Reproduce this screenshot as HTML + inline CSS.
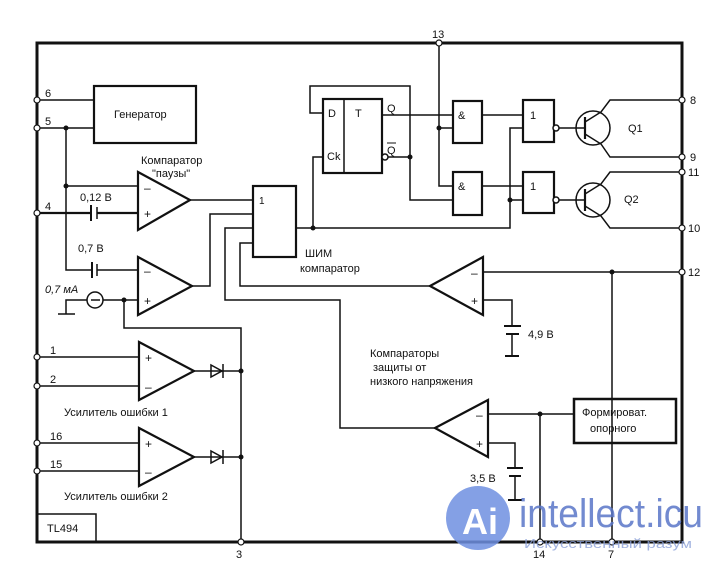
<!DOCTYPE html>
<html><head><meta charset="utf-8"><style>
body{margin:0;background:#fff}
svg{display:block}
text{font-family:"Liberation Sans",sans-serif;fill:#111}
</style></head><body>
<svg width="718" height="570" viewBox="0 0 718 570" xmlns="http://www.w3.org/2000/svg" font-size="11">
<g stroke="#111" fill="none" stroke-width="1.5">
<rect x="37" y="43" width="645" height="499" stroke-width="3"/>
<rect x="94" y="86" width="102" height="57" stroke-width="2.2"/>
<line x1="37" y1="100" x2="94" y2="100"/>
<line x1="37" y1="128" x2="94" y2="128"/>
<polyline points="66,128 66,270 92,270"/>
<line x1="97" y1="270" x2="138" y2="270"/>
<line x1="92" y1="262" x2="92" y2="278" stroke-width="2"/>
<line x1="97" y1="264" x2="97" y2="276"/>
<line x1="66" y1="186" x2="138" y2="186"/>
<line x1="37" y1="213" x2="91" y2="213" stroke-width="2.2"/>
<line x1="97" y1="213" x2="138" y2="213" stroke-width="2.2"/>
<line x1="91" y1="205" x2="91" y2="221" stroke-width="2"/>
<line x1="97" y1="207" x2="97" y2="219"/>
<polygon points="138,172 138,230 190,200" stroke-width="2.2"/>
<line x1="190" y1="200" x2="253" y2="200"/>
<polygon points="138,257 138,315 192,286" stroke-width="2.2"/>
<polyline points="192,286 210,286 210,214 253,214"/>
<circle cx="95" cy="300" r="8"/>
<polyline points="66,314 66,300 87,300"/>
<line x1="58" y1="314" x2="75" y2="314"/>
<line x1="103" y1="300" x2="138" y2="300"/>
<line x1="91" y1="300" x2="100" y2="300"/>
<polyline points="124,300 124,328 241,328 241,542"/>
<rect x="253" y="186" width="43" height="71" stroke-width="2.2"/>
<polyline points="253,228 225,228 225,300 340,300 340,428 435,428"/>
<polyline points="253,243 240,243 240,286 430,286"/>
<polyline points="296,228 510,228 510,128 523,128"/>
<polyline points="323,157 313,157 313,228"/>
<line x1="510" y1="200" x2="523" y2="200"/>
<rect x="323" y="99" width="59" height="74" stroke-width="2.2"/>
<line x1="344" y1="99" x2="344" y2="173"/>
<polyline points="323,113 310,113 310,86 410,86 410,200 453,200"/>
<line x1="382" y1="115" x2="453" y2="115"/>
<line x1="385" y1="157" x2="410" y2="157"/>
<circle cx="385" cy="157" r="3" fill="#fff"/>
<polyline points="439,43 439,186 453,186"/>
<line x1="439" y1="128" x2="453" y2="128"/>
<rect x="453" y="101" width="29" height="42" stroke-width="2.2"/>
<rect x="453" y="172" width="29" height="43" stroke-width="2.2"/>
<line x1="482" y1="115" x2="523" y2="115"/>
<line x1="482" y1="186" x2="523" y2="186"/>
<rect x="523" y="100" width="31" height="42" stroke-width="2.2"/>
<rect x="523" y="172" width="31" height="41" stroke-width="2.2"/>
<circle cx="556" cy="128" r="3" fill="#fff"/>
<circle cx="556" cy="200" r="3" fill="#fff"/>
<circle cx="593" cy="128" r="17"/>
<line x1="559" y1="128" x2="585" y2="128"/>
<line x1="585" y1="117" x2="585" y2="139" stroke-width="2.2"/>
<polyline points="585,122 601,112 610,100 682,100"/>
<polyline points="585,134 601,144 610,157 682,157"/>
<circle cx="593" cy="200" r="17"/>
<line x1="559" y1="200" x2="585" y2="200"/>
<line x1="585" y1="189" x2="585" y2="211" stroke-width="2.2"/>
<polyline points="585,194 601,184 610,172 682,172"/>
<polyline points="585,206 601,216 610,228 682,228"/>
<polygon points="430,286 483,257 483,315" stroke-width="2.2"/>
<line x1="483" y1="272" x2="682" y2="272"/>
<polyline points="483,300 512,300 512,326"/>
<line x1="504" y1="326" x2="521" y2="326" stroke-width="2"/>
<line x1="506" y1="334" x2="519" y2="334" stroke-width="2"/>
<polyline points="512,334 512,356"/>
<line x1="505" y1="356" x2="519" y2="356" stroke-width="2"/>
<line x1="612" y1="272" x2="612" y2="542"/>
<polygon points="435,428 488,400 488,457" stroke-width="2.2"/>
<line x1="488" y1="414" x2="574" y2="414"/>
<line x1="540" y1="414" x2="540" y2="542"/>
<polyline points="488,443 515,443 515,468"/>
<line x1="507" y1="468" x2="523" y2="468" stroke-width="2"/>
<line x1="509" y1="476" x2="521" y2="476" stroke-width="2"/>
<polyline points="515,476 515,500"/>
<line x1="508" y1="500" x2="522" y2="500" stroke-width="2"/>
<rect x="574" y="399" width="102" height="44" stroke-width="2.5"/>
<polygon points="139,342 139,400 194,371" stroke-width="2.2"/>
<line x1="37" y1="357" x2="139" y2="357"/>
<line x1="37" y1="386" x2="139" y2="386"/>
<line x1="194" y1="371" x2="241" y2="371"/>
<polygon points="211,365 211,377 222,371"/>
<line x1="223" y1="364" x2="223" y2="378"/>
<polygon points="139,428 139,486 194,457" stroke-width="2.2"/>
<line x1="37" y1="443" x2="139" y2="443"/>
<line x1="37" y1="471" x2="139" y2="471"/>
<line x1="194" y1="457" x2="241" y2="457"/>
<polygon points="211,451 211,463 222,457"/>
<line x1="223" y1="450" x2="223" y2="464"/>
<polyline points="37,514 96,514 96,542"/>
</g>
<g fill="#111">
<circle cx="66" cy="128" r="2.5"/><circle cx="66" cy="186" r="2.5"/>
<circle cx="124" cy="300" r="2.5"/><circle cx="313" cy="228" r="2.5"/>
<circle cx="410" cy="157" r="2.5"/><circle cx="439" cy="128" r="2.5"/>
<circle cx="510" cy="200" r="2.5"/><circle cx="612" cy="272" r="2.5"/>
<circle cx="540" cy="414" r="2.5"/><circle cx="241" cy="371" r="2.5"/>
<circle cx="241" cy="457" r="2.5"/>
</g>
<g fill="#fff" stroke="#111" stroke-width="1.2">
<circle cx="37" cy="100" r="3"/><circle cx="37" cy="128" r="3"/><circle cx="37" cy="213" r="3"/>
<circle cx="37" cy="357" r="3"/><circle cx="37" cy="386" r="3"/><circle cx="37" cy="443" r="3"/><circle cx="37" cy="471" r="3"/>
<circle cx="439" cy="43" r="3"/><circle cx="682" cy="100" r="3"/><circle cx="682" cy="157" r="3"/>
<circle cx="682" cy="172" r="3"/><circle cx="682" cy="228" r="3"/><circle cx="682" cy="272" r="3"/>
<circle cx="241" cy="542" r="3"/><circle cx="540" cy="542" r="3"/><circle cx="612" cy="542" r="3"/>
</g>
<g font-size="12">
<text x="144" y="192">–</text><text x="144" y="218">+</text>
<text x="144" y="275">–</text><text x="144" y="305">+</text>
<text x="145" y="362">+</text><text x="145" y="391">–</text>
<text x="145" y="448">+</text><text x="145" y="476">–</text>
<text x="471" y="277">–</text><text x="471" y="305">+</text>
<text x="476" y="419">–</text><text x="476" y="448">+</text>
</g>
<text x="114" y="118">Генератор</text>
<text x="141" y="164">Компаратор</text>
<text x="152" y="177">"паузы"</text>
<text x="80" y="201">0,12 В</text>
<text x="78" y="252">0,7 В</text>
<text x="45" y="293" font-style="italic">0,7 мА</text>
<text x="259" y="204" font-size="10">1</text>
<text x="305" y="257">ШИМ</text>
<text x="300" y="272">компаратор</text>
<text x="328" y="117">D</text><text x="355" y="117">T</text><text x="327" y="160">Ck</text>
<text x="387" y="112">Q</text><text x="387" y="154">Q</text>
<line x1="387" y1="143" x2="396" y2="143" stroke="#111"/>
<text x="458" y="119">&amp;</text><text x="458" y="190">&amp;</text>
<text x="530" y="119">1</text><text x="530" y="190">1</text>
<text x="628" y="132">Q1</text><text x="624" y="203">Q2</text>
<text x="690" y="104">8</text><text x="690" y="161">9</text><text x="688" y="176">11</text>
<text x="688" y="232">10</text><text x="688" y="276">12</text>
<text x="432" y="38">13</text>
<text x="45" y="97">6</text><text x="45" y="125">5</text><text x="45" y="210">4</text>
<text x="50" y="354">1</text><text x="50" y="383">2</text><text x="50" y="440">16</text><text x="50" y="468">15</text>
<text x="528" y="338">4,9 В</text>
<text x="470" y="482">3,5 В</text>
<text x="370" y="357">Компараторы</text>
<text x="373" y="371">защиты от</text>
<text x="370" y="385">низкого напряжения</text>
<text x="582" y="416">Формироват.</text>
<text x="590" y="432">опорного</text>
<text x="64" y="416">Усилитель ошибки 1</text>
<text x="64" y="500">Усилитель ошибки 2</text>
<text x="47" y="532">TL494</text>
<text x="236" y="558">3</text><text x="533" y="558">14</text><text x="608" y="558">7</text>
<circle cx="478" cy="518" r="32" fill="#6f8fe0" opacity="0.85"/>
<text x="462" y="534" font-size="36" font-weight="bold" style="fill:#fff">Ai</text>
<text x="519" y="527" font-size="40" textLength="184" lengthAdjust="spacingAndGlyphs" style="fill:#5a76c8" opacity="0.85">intellect.icu</text>
<text x="524" y="548" font-size="13" textLength="168" lengthAdjust="spacingAndGlyphs" style="fill:#8aa0d8" opacity="0.8">Искусственный разум</text>
</svg>
</body></html>
